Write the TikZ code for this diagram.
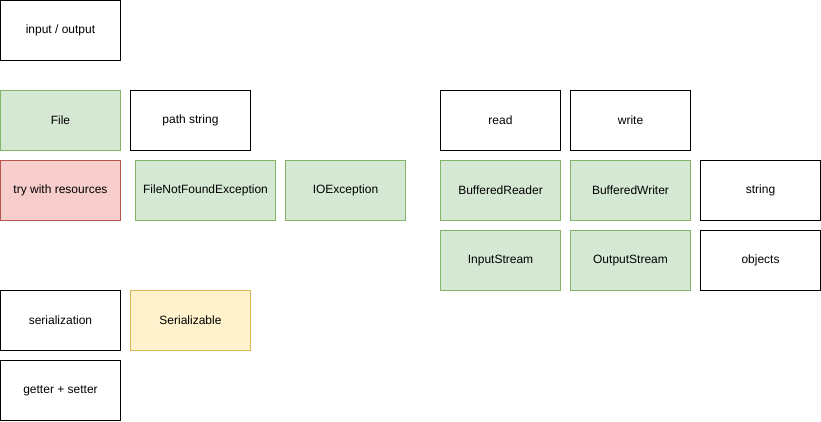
\documentclass[tikz,border=0pt]{standalone}
\usepackage{fontspec}
\setmainfont{Liberation Sans}
\usepackage{xcolor}
\usetikzlibrary{positioning}
\definecolor{greenfill}{RGB}{213, 232, 212}
\definecolor{greenline}{RGB}{130, 179, 102}
\definecolor{redfill}{RGB}{248, 206, 204}
\definecolor{redline}{RGB}{184, 84, 80}
\definecolor{yellowfill}{RGB}{255, 242, 204}
\definecolor{yellowline}{RGB}{214, 182, 86}

\begin{document}
\begin{tikzpicture}[
        x=1pt, y=-1pt,
        box/.style={draw, line width=1pt, fill=white, minimum width=120pt, minimum height=60pt, inner sep=0pt, align=center, font=\fontsize{12}{14}\selectfont},
        wide/.style={minimum width=140pt},
        java/.style={fill=greenfill, draw=greenline},
        trybox/.style={fill=redfill, draw=redline},
        iface/.style={fill=yellowfill, draw=yellowline}
    ]
        \useasboundingbox (-0.5, -0.5) rectangle (820.5, 420.5);

        % Topic
        \node[box] (io) at (60, 30) {input / output};

        % Files
        \node[box, java] (file) at (60, 120) {File};
        \node[box] (path) at (190, 120) {path string};

        % Exceptions
        \node[box, trybox] (try) at (60, 190) {try with resources};
        \node[box, java, wide] (notfound) at (205, 190) {FileNotFoundException};
        \node[box, java] (ioex) at (345, 190) {IOException};

        % Reading and writing
        \node[box] (read) at (500, 120) {read};
        \node[box] (write) at (630, 120) {write};
        \node[box, java] (breader) at (500, 190) {BufferedReader};
        \node[box, java] (bwriter) at (630, 190) {BufferedWriter};
        \node[box] (string) at (760, 190) {string};
        \node[box, java] (instream) at (500, 260) {InputStream};
        \node[box, java] (outstream) at (630, 260) {OutputStream};
        \node[box] (objects) at (760, 260) {objects};

        % Serialization
        \node[box] (serial) at (60, 320) {serialization};
        \node[box, iface] (serializable) at (190, 320) {Serializable};
        \node[box] (getset) at (60, 390) {getter + setter};
    \end{tikzpicture}
\end{document}
